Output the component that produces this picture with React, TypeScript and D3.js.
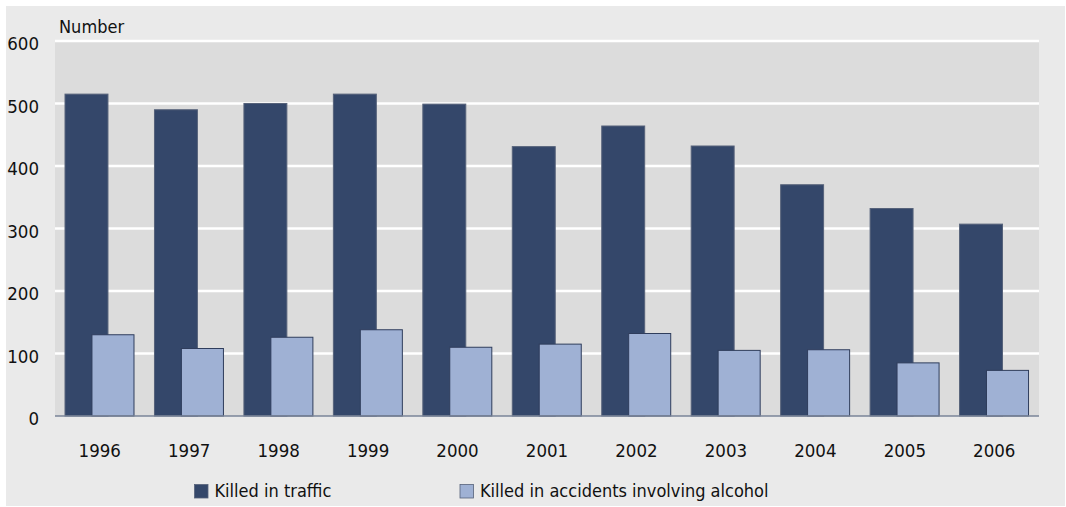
import React from "react";
import * as d3 from "d3";

const years = ["1996","1997","1998","1999","2000","2001","2002","2003","2004","2005","2006"];
const killedTraffic = [515, 490, 500, 515, 499, 431, 464, 432, 370, 332, 307];
const killedAlcohol = [130, 108, 126, 138, 110, 115, 132, 105, 106, 85, 73];
const yTicks = [0, 100, 200, 300, 400, 500, 600];
const seriesNames = ["Killed in traffic", "Killed in accidents involving alcohol"];
const colors = ["#34476a", "#9fb1d4"];

const W = 1066, H = 507;
const FONT = "'DejaVu Sans Condensed', 'DejaVu Sans', sans-serif";

export default function App() {
  const x = d3.scaleBand<string>().domain(years).range([55, 1039]).padding(0);
  const y = d3.scaleLinear().domain([0, 600]).range([416, 41]);
  const bw = x.bandwidth();
  return (
    <svg width={W} height={H} style={{ position: "absolute", left: 0, top: 0 }} fontFamily={FONT}>
      <rect x={0} y={0} width={W} height={H} fill="#ffffff" />
      <rect x={6} y={6} width={1059} height={500} fill="#eaeaea" />
      <rect x={55} y={y(600)} width={1039 - 55} height={y(0) - y(600)} fill="#dcdcdc" />
      {yTicks.filter(t => t > 0).map(t => (
        <line key={t} x1={55} x2={1039} y1={y(t)} y2={y(t)} stroke="#ffffff" strokeWidth={2.5} />
      ))}
      {yTicks.map(t => (
        <text key={t} x={39} y={y(t) + 9} textAnchor="end" fontSize={18.5} fill="#111">{t}</text>
      ))}
      <text x={59} y={33} fontSize={18} fill="#111">Number</text>
      {years.map((yr, i) => (
        <g key={yr}>
          <rect x={x(yr)! + bw * 0.112} y={y(killedTraffic[i])} width={bw * 0.48} height={y(0) - y(killedTraffic[i])}
            fill={colors[0]} stroke="#56627a" strokeWidth={1} />
          <rect x={x(yr)! + bw * 0.413} y={y(killedAlcohol[i])} width={bw * 0.47} height={y(0) - y(killedAlcohol[i])}
            fill={colors[1]} stroke="#2f3d5c" strokeWidth={1} />
          <text x={x(yr)! + bw / 2} y={457} textAnchor="middle" fontSize={18.5} fill="#111">{yr}</text>
        </g>
      ))}
      <line x1={55} x2={1039} y1={y(0)} y2={y(0)} stroke="#7a8599" strokeWidth={1.5} />
      {seriesNames.map((s, i) => {
        const lx = i === 0 ? 194.5 : 460;
        return (
          <g key={s}>
            <rect x={lx} y={484.5} width={13.5} height={13.5} fill={colors[i]} stroke="#56627a" strokeWidth={0.8} />
            <text x={lx + 20} y={497} fontSize={18} fill="#111">{s}</text>
          </g>
        );
      })}
    </svg>
  );
}
